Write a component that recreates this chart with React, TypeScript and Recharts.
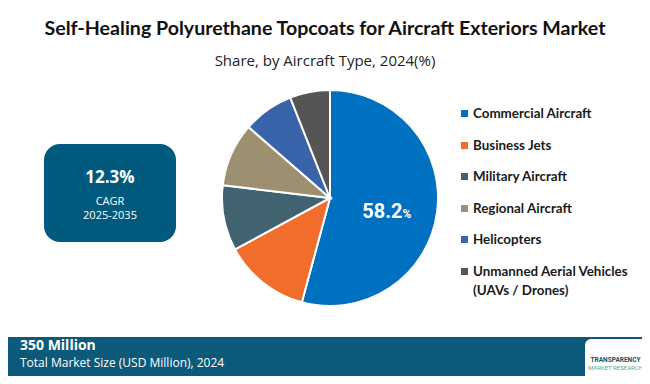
import { Cell, Pie, PieChart } from "recharts";

const segments = [
  "Commercial Aircraft",
  "Business Jets",
  "Military Aircraft",
  "Regional Aircraft",
  "Helicopters",
  "Unmanned Aerial Vehicles (UAVs / Drones)",
];
const shares = [54.2, 12.9, 9.8, 9.5, 7.6, 6.0];
const colors = ["#0070C0", "#F26C2B", "#41626F", "#9D9070", "#3A64A9", "#555555"];
const headline = "58.2";

const data = segments.map((name, i) => ({ name, value: shares[i] }));

const renderLabel = (props: any) => {
  if (props.index !== 0) return null;
  const RAD = Math.PI / 180;
  const r = props.outerRadius * 0.55;
  const x = props.cx + r * Math.cos(-props.midAngle * RAD);
  const y = props.cy + r * Math.sin(-props.midAngle * RAD);
  return (
    <text x={x - 2} y={y + 12} fill="#ffffff" textAnchor="middle" fontFamily="Roboto, sans-serif" fontWeight={700}>
      <tspan fontSize={20}>{headline}</tspan>
      <tspan fontSize={12}>%</tspan>
    </text>
  );
};

export default function App() {
  return (
    <div style={{ position: "relative", width: 650, height: 384, margin: -8, background: "#ffffff", overflow: "hidden" }}>
      <div style={{ position: "absolute", top: 16, left: 0, width: 650, textAlign: "center", fontFamily: "Lato, sans-serif", fontWeight: 700, fontSize: 19.6, color: "#111" }}>
        Self-Healing Polyurethane Topcoats for Aircraft Exteriors Market
      </div>
      <div style={{ position: "absolute", top: 50, left: 0, width: 650, textAlign: "center", fontFamily: "'Open Sans', sans-serif", fontSize: 15, color: "#222" }}>
        Share, by Aircraft Type, 2024(%)
      </div>

      <div style={{ position: "absolute", left: 44, top: 144, width: 132, height: 98, borderRadius: 16, background: "#005A7D", color: "#fff", textAlign: "center", fontFamily: "'Open Sans', sans-serif" }}>
        <div style={{ marginTop: 22, fontSize: 17, fontWeight: 700, lineHeight: "22px" }}>12.3%</div>
        <div style={{ marginTop: 6, fontSize: 11, lineHeight: "14px" }}>CAGR</div>
        <div style={{ fontSize: 11, lineHeight: "14px" }}>2025-2035</div>
      </div>

      <div style={{ position: "absolute", left: 0, top: 0 }}>
        <PieChart width={650} height={384}>
          <Pie
            data={data}
            dataKey="value"
            cx={325}
            cy={193}
            outerRadius={108}
            startAngle={90}
            endAngle={-270}
            stroke="#ffffff"
            strokeWidth={2}
            label={renderLabel}
            labelLine={false}
            isAnimationActive={false}
          >
            {data.map((d, i) => (
              <Cell key={d.name} fill={colors[i]} />
            ))}
          </Pie>
        </PieChart>
      </div>

      <div style={{ position: "absolute", left: 461, top: 104, fontFamily: "Lato, sans-serif", fontWeight: 700, fontSize: 13.4, color: "#1a1a1a" }}>
        {segments.map((name, i) => (
          <div key={name} style={{ display: "flex", alignItems: "flex-start", height: 31.5 }}>
            <div style={{ width: 7, height: 7, background: colors[i], marginTop: 6, marginRight: 5, flexShrink: 0 }} />
            <div style={{ width: 175, lineHeight: "19px" }}>{name}</div>
          </div>
        ))}
      </div>

      <div style={{ position: "absolute", left: 0, top: 337, width: 650, height: 47, background: "#0B5A7A", color: "#fff", fontFamily: "'Open Sans', sans-serif" }}>
        <div style={{ position: "absolute", left: 20, top: 0, fontSize: 14, fontWeight: 700, lineHeight: "16px" }}>350 Million</div>
        <div style={{ position: "absolute", left: 20, top: 19, fontSize: 12, lineHeight: "13px" }}>Total Market Size (USD Million), 2024</div>
        <div style={{ position: "absolute", left: 585, top: 2, width: 61, height: 44, borderRadius: 6, background: "#fff", textAlign: "center", fontFamily: "Roboto, sans-serif" }}>
          <div style={{ marginTop: 17, fontSize: 6.5, fontWeight: 700, color: "#1d4e6b", lineHeight: "8px" }}>TRANSPARENCY</div>
          <div style={{ fontSize: 6, color: "#5aa98a", lineHeight: "8px" }}>MARKET RESEARCH</div>
        </div>
      </div>
    </div>
  );
}
